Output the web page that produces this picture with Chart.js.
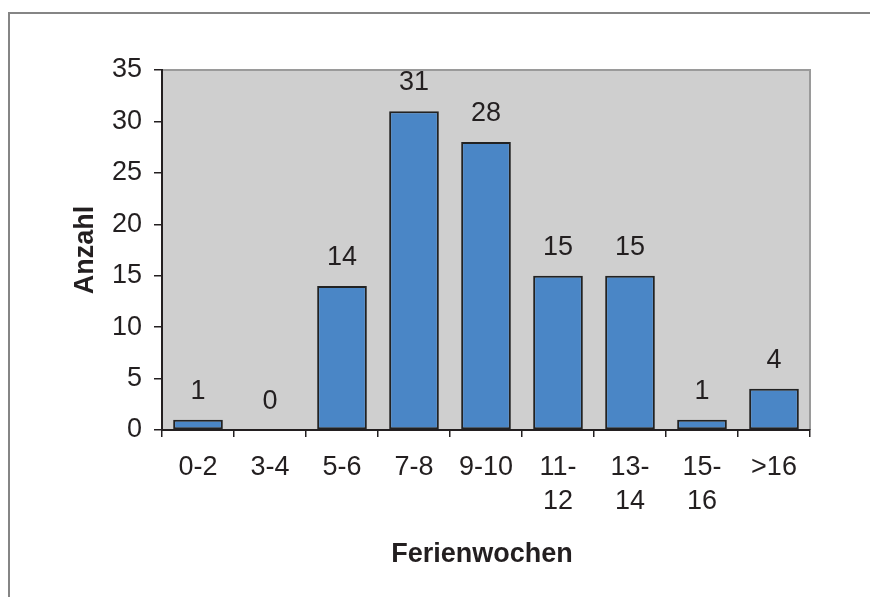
<!DOCTYPE html>
<html>
<head>
<meta charset="utf-8">
<script src="https://cdn.jsdelivr.net/npm/chart.js@4/dist/chart.umd.min.js"></script>
<style>
  html, body { margin: 0; padding: 0; background: #ffffff; }
  #wrap { width: 870px; height: 597px; position: relative; }
</style>
</head>
<body>
<div id="wrap"><canvas id="c" width="870" height="597"></canvas></div>
<script>
// Ferienwochen pro Jahr – Häufigkeitsverteilung
const categories = ['0-2', '3-4', '5-6', '7-8', '9-10', ['11-', '12'], ['13-', '14'], ['15-', '16'], '>16'];
const counts = [1, 0, 14, 31, 28, 15, 15, 1, 4];
const yTicks = [0, 5, 10, 15, 20, 25, 30, 35];

const FONT = '"Liberation Sans", Arial, Helvetica, sans-serif';
const INK = '#231f20';

// Plot background, outer frame and grey plot border
const framePlugin = {
  id: 'frame',
  beforeDraw(chart) {
    const { ctx, chartArea: a } = chart;
    ctx.save();
    ctx.fillStyle = '#ffffff';
    ctx.fillRect(0, 0, chart.width, chart.height);
    ctx.strokeStyle = '#858585';
    ctx.lineWidth = 2;
    ctx.beginPath();
    ctx.moveTo(9, chart.height);
    ctx.lineTo(9, 13);
    ctx.lineTo(chart.width, 13);
    ctx.stroke();
    ctx.fillStyle = '#cfcfcf';
    ctx.fillRect(a.left, a.top, a.right - a.left, a.bottom - a.top);
    ctx.strokeStyle = '#9a9a9a';
    ctx.lineWidth = 2;
    ctx.beginPath();
    ctx.moveTo(a.left, a.top);
    ctx.lineTo(a.right, a.top);
    ctx.lineTo(a.right, a.bottom);
    ctx.stroke();
    ctx.restore();
  },
  afterDraw(chart) {
    const { ctx, chartArea: a } = chart;
    ctx.save();
    ctx.fillStyle = INK;
    ctx.font = 'bold 27px ' + FONT;
    ctx.textAlign = 'center';
    ctx.textBaseline = 'alphabetic';
    ctx.fillText('Ferienwochen', 482, 562);
    ctx.translate(93, (a.top + a.bottom) / 2);
    ctx.rotate(-Math.PI / 2);
    ctx.fillText('Anzahl', 0, 0);
    ctx.restore();
  }
};

// Value labels above each bar
const valueLabels = {
  id: 'valueLabels',
  afterDatasetsDraw(chart) {
    const { ctx } = chart;
    const meta = chart.getDatasetMeta(0);
    ctx.save();
    ctx.fillStyle = INK;
    ctx.font = '27px ' + FONT;
    ctx.textAlign = 'center';
    ctx.textBaseline = 'alphabetic';
    meta.data.forEach((bar, i) => {
      ctx.fillText(String(counts[i]), bar.x, bar.y - 21);
    });
    ctx.restore();
  }
};

new Chart(document.getElementById('c'), {
  type: 'bar',
  data: {
    labels: categories,
    datasets: [{
      data: counts,
      backgroundColor: '#4a86c6',
      borderColor: '#222222',
      borderWidth: (c) => (c.raw === 0 ? 0 : 2),
      borderSkipped: false,
      barPercentage: 0.69,
      categoryPercentage: 1
    }]
  },
  options: {
    responsive: false,
    animation: false,
    devicePixelRatio: 1,
    layout: { padding: { top: 70, right: 60, left: 0, bottom: 0 } },
    plugins: { legend: { display: false }, tooltip: { enabled: false } },
    scales: {
      x: {
        afterFit(s) { s.height = 167; },
        grid: { offset: true, drawOnChartArea: false, drawTicks: true, tickLength: 7, color: INK, lineWidth: 1.5 },
        border: { color: INK, width: 2 },
        ticks: { color: INK, padding: 13, maxRotation: 0, autoSkip: false, font: { family: FONT, size: 27, lineHeight: 1.27 } }
      },
      y: {
        min: 0,
        max: 35,
        afterFit(s) { s.width = 162; },
        afterBuildTicks(s) { s.ticks = yTicks.map(v => ({ value: v })); },
        grid: { drawOnChartArea: false, drawTicks: true, tickLength: 8, color: INK, lineWidth: 1.5 },
        border: { color: INK, width: 2 },
        ticks: { color: INK, padding: 12, font: { family: FONT, size: 27 } }
      }
    }
  },
  plugins: [framePlugin, valueLabels]
});
</script>
</body>
</html>
